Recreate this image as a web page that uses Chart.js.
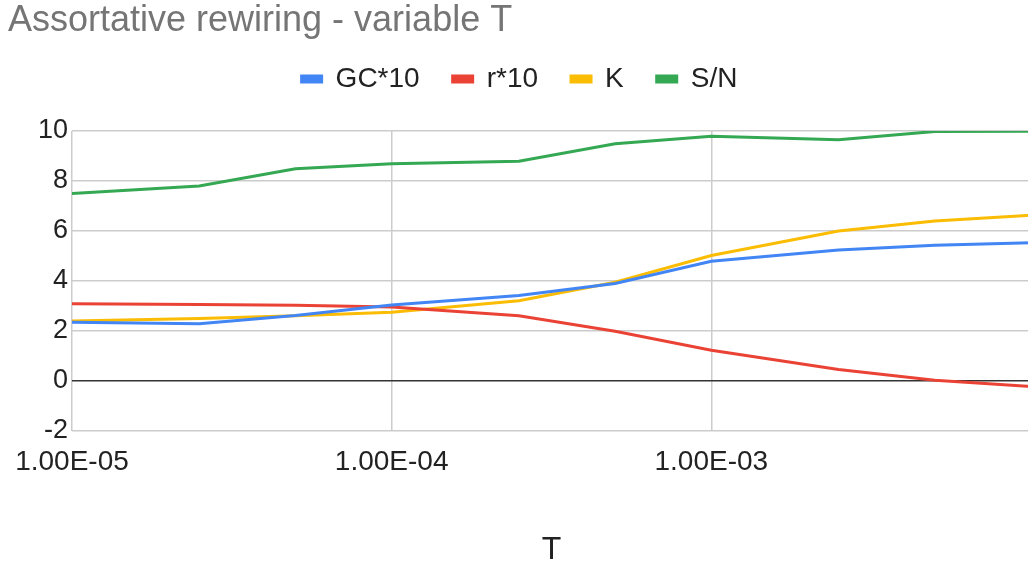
<!DOCTYPE html>
<html lang="en">
<head>
    <meta charset="UTF-8">
    <title>Assortative rewiring - variable T</title>
    <script src="https://cdn.jsdelivr.net/npm/chart.js"></script>
    <style>
        html, body {
            margin: 0;
            padding: 0;
            background: #ffffff;
            overflow: hidden;
        }
        #wrap {
            width: 1031px;
            height: 567px;
        }
    </style>
</head>
<body>
    <div id="wrap"><canvas id="chart"></canvas></div>
    <script>
        // data
        const tValues = [1e-5, 2.5e-5, 5e-5, 1e-4, 2.5e-4, 5e-4, 1e-3, 2.5e-3, 5e-3, 1e-2];
        const gc10 = [2.35, 2.29, 2.62, 3.04, 3.42, 3.9, 4.79, 5.24, 5.43, 5.53];
        const r10 = [3.09, 3.06, 3.03, 2.96, 2.61, 1.99, 1.23, 0.46, 0.03, -0.22];
        const kVals = [2.4, 2.5, 2.61, 2.75, 3.21, 3.95, 5.02, 6.0, 6.4, 6.63];
        const sn = [7.5, 7.8, 8.49, 8.69, 8.79, 9.49, 9.79, 9.65, 9.98, 9.99];
        const xTicks = [1e-5, 1e-4, 1e-3];

        const fontFamily = 'Arial, "Liberation Sans", sans-serif';

        function toPoints(arr) {
            return arr.map((v, i) => ({ x: tValues[i], y: v }));
        }

        // 1e-5 -> "1.00E-05"
        function sci(v) {
            const parts = v.toExponential(2).toUpperCase().split('E');
            const sign = parts[1][0] === '-' ? '-' : '+';
            const exp = parts[1].replace(/^[+-]/, '').padStart(2, '0');
            return parts[0] + 'E' + sign + exp;
        }

        function line(label, values, color) {
            return {
                label: label,
                data: toPoints(values),
                borderColor: color,
                backgroundColor: color,
                borderWidth: 3,
                pointRadius: 0,
                tension: 0
            };
        }

        // extra room under the legend
        const legendGap = {
            id: 'legendGap',
            beforeInit(chart) {
                const fit = chart.legend.fit;
                chart.legend.fit = function() {
                    fit.bind(chart.legend)();
                    this.height += 28;
                };
            }
        };

        const config = {
            type: 'line',
            data: {
                datasets: [
                    line('GC*10', gc10, '#4285F4'),
                    line('r*10', r10, '#EA4335'),
                    line('K', kVals, '#FBBC04'),
                    line('S/N', sn, '#34A853')
                ]
            },
            options: {
                responsive: true,
                maintainAspectRatio: false,
                animation: false,
                layout: {
                    padding: { left: 8, right: 0, top: 0, bottom: 0 }
                },
                plugins: {
                    title: {
                        display: true,
                        text: 'Assortative rewiring - variable T',
                        align: 'start',
                        color: '#757575',
                        font: { family: fontFamily, size: 36, weight: 'normal', lineHeight: 1 },
                        padding: { top: 3, bottom: -7 }
                    },
                    legend: {
                        display: true,
                        position: 'top',
                        labels: {
                            color: '#222222',
                            font: { family: fontFamily, size: 28 },
                            boxWidth: 20,
                            boxHeight: 6,
                            padding: 33
                        }
                    },
                    tooltip: { enabled: false }
                },
                scales: {
                    x: {
                        type: 'logarithmic',
                        min: 1e-5,
                        max: 1e-2,
                        afterBuildTicks: function(scale) {
                            scale.ticks = xTicks.map(v => ({ value: v }));
                        },
                        ticks: {
                            color: '#222222',
                            font: { family: fontFamily, size: 28 },
                            maxRotation: 0,
                            autoSkip: false,
                            padding: 14,
                            callback: function(value) {
                                return sci(value);
                            }
                        },
                        grid: {
                            color: '#cccccc',
                            lineWidth: 1.5,
                            drawTicks: false
                        },
                        border: { display: false },
                        title: {
                            display: true,
                            text: 'T',
                            color: '#222222',
                            font: { family: fontFamily, size: 32 },
                            padding: { top: 38, bottom: -2 }
                        }
                    },
                    y: {
                        min: -2,
                        max: 10,
                        afterFit: function(scale) {
                            scale.width = 64;
                        },
                        ticks: {
                            stepSize: 2,
                            color: '#222222',
                            font: { family: fontFamily, size: 27 },
                            padding: 4
                        },
                        grid: {
                            color: ctx => ctx.tick && ctx.tick.value === 0 ? '#333333' : '#cccccc',
                            lineWidth: 1.5,
                            drawTicks: false
                        },
                        border: { display: false }
                    }
                }
            },
            plugins: [legendGap]
        };

        const ctx = document.getElementById('chart').getContext('2d');
        new Chart(ctx, config);
    </script>
</body>
</html>
